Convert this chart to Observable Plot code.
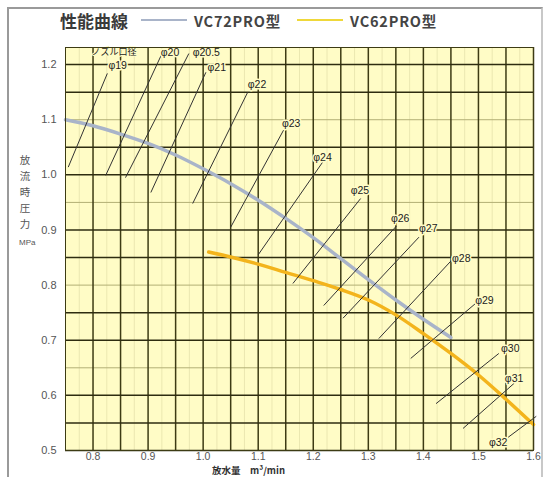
<!DOCTYPE html>
<html><head><meta charset="utf-8">
<script src="https://cdn.jsdelivr.net/npm/d3@7"></script>
<script src="https://cdn.jsdelivr.net/npm/@observablehq/plot@0.6"></script>
<style>
html,body{margin:0;padding:0;background:#fff;}
#wrap{position:relative;width:545px;height:477px;overflow:hidden;font-family:"Liberation Sans",Arial,sans-serif;}
#border{position:absolute;left:7px;top:7px;width:532px;height:480px;border-left:2px solid #9a9a9a;border-top:2px solid #9a9a9a;border-right:2px solid #c8c8c8;}
#head{position:absolute;left:60px;top:8px;height:24px;display:flex;align-items:center;font-family:"Noto Sans CJK JP","Liberation Sans",sans-serif;}
#head .t{font-weight:bold;font-size:17px;color:#3a3a3a;margin-right:13px;}
#head .ln{display:inline-block;width:46px;height:2px;margin-right:7px;}
#head .s{font-weight:bold;font-size:14.5px;color:#444;margin-right:16px;letter-spacing:0.8px;}
#chart{position:absolute;left:0;top:30px;}
#ylab{position:absolute;left:19px;top:152px;font-family:"Noto Sans CJK JP",sans-serif;font-size:10.5px;color:#555;line-height:16px;width:12px;text-align:center;}
#yunit{position:absolute;left:19px;top:238px;font-size:8px;color:#555;}
#xlab{position:absolute;left:212px;top:465px;font-family:"Noto Sans CJK JP",sans-serif;font-size:9.5px;font-weight:bold;color:#333;line-height:11px;}
</style></head>
<body>
<div id="wrap">
  <div id="border"></div>
  <div id="head"></div>
  <div id="chart"></div>
  <div id="ylab"></div>
  <div id="yunit"></div>
  <div id="xlab"></div>
</div>
<script>
const titleText = "性能曲線";
const seriesNames = ["VC72PRO型", "VC62PRO型"];
const seriesColors = ["#a9b4c9", "#f3b41c"];
const legendColors = ["#a9b4c9", "#efd83a"];
const yLabelText = "放流時圧力";
const yUnitText = "MPa";
const xLabelText = "放水量　m³/min";
const topLabelText = "ノズル口径";

// VC72PRO curve
const vc72Flow = [0.75, 0.8, 0.85, 0.9, 0.95, 1.0, 1.05, 1.1, 1.15, 1.2, 1.25, 1.3, 1.35, 1.4, 1.45];
const vc72Pres = [1.100, 1.089, 1.074, 1.057, 1.036, 1.011, 0.984, 0.954, 0.921, 0.886, 0.848, 0.810, 0.773, 0.738, 0.705];
// VC62PRO curve
const vc62Flow = [1.01, 1.05, 1.1, 1.15, 1.2, 1.25, 1.3, 1.35, 1.4, 1.45, 1.5, 1.55, 1.6];
const vc62Pres = [0.860, 0.851, 0.838, 0.823, 0.808, 0.792, 0.773, 0.746, 0.712, 0.676, 0.637, 0.593, 0.547];

// nozzle diameter lines
const nozzleNames = ["φ19","φ20","φ20.5","φ21","φ22","φ23","φ24","φ25","φ26","φ27","φ28","φ29","φ30","φ31","φ32"];
const nozzleX1 = [0.755,0.823,0.859,0.905,0.981,1.050,1.100,1.163,1.219,1.254,1.319,1.377,1.423,1.472,1.554];
const nozzleY1 = [1.014,0.999,0.995,0.968,0.948,0.905,0.855,0.803,0.763,0.740,0.703,0.667,0.585,0.540,0.524];
const nozzleX2 = [0.826,0.928,0.974,1.005,1.081,1.146,1.217,1.286,1.351,1.392,1.454,1.501,1.537,1.565,1.605];
const nozzleY2 = [1.184,1.226,1.220,1.186,1.150,1.081,1.023,0.957,0.907,0.887,0.848,0.772,0.676,0.622,0.562];
const labelX = [0.828,0.923,0.981,1.008,1.081,1.143,1.200,1.268,1.341,1.392,1.452,1.494,1.541,1.548,1.519];
const labelY = [1.199,1.221,1.221,1.195,1.164,1.093,1.032,0.972,0.921,0.903,0.848,0.772,0.685,0.631,0.515];

const xTicks = [0.8, 0.9, 1.0, 1.1, 1.2, 1.3, 1.4, 1.5, 1.6];
const yTicks = [0.5, 0.6, 0.7, 0.8, 0.9, 1.0, 1.1, 1.2];
const xGridMajor = [0.8,0.85,0.9,0.95,1.0,1.05,1.1,1.15,1.2,1.25,1.3,1.35,1.4,1.45,1.5,1.55,1.6];
const xGridMinor = [0.775,0.825,0.875,0.925,0.975,1.025,1.075,1.125,1.175,1.225,1.275,1.325,1.375,1.425,1.475,1.525,1.575];
const yGridMajor = [1.2,1.15,1.05,1.0,0.9,0.85,0.75,0.7,0.6,0.55,0.5];
const yGridMid = [1.1,0.95,0.8,0.65];

// header
const head = document.getElementById("head");
head.innerHTML = `<span class="t">${titleText}</span>` +
  seriesNames.map((n,i)=>`<span class="ln" style="background:${legendColors[i]}"></span><span class="s">${n}</span>`).join("");
document.getElementById("ylab").textContent = yLabelText;
document.getElementById("yunit").textContent = yUnitText;
document.getElementById("xlab").textContent = xLabelText;

const vc72 = vc72Flow.map((x,i)=>({x, y: vc72Pres[i]}));
const vc62 = vc62Flow.map((x,i)=>({x, y: vc62Pres[i]}));
const nozzles = nozzleNames.map((n,i)=>({n, x1:nozzleX1[i], y1:nozzleY1[i], x2:nozzleX2[i], y2:nozzleY2[i], lx:labelX[i], ly:labelY[i]}));
const bg = "#fffcc6";

const chart = Plot.plot({
  width: 545, height: 447,
  marginTop: 17, marginBottom: 27, marginLeft: 65, marginRight: 12,
  x: {domain: [0.75, 1.6]},
  y: {domain: [0.5, 1.231]},
  style: {background: "transparent", fontFamily: "'Liberation Sans', Arial, sans-serif", fontSize: "11px"},
  marks: [
    Plot.frame({fill: bg}),
    Plot.ruleX(xGridMinor, {stroke: "#e6e2ac", strokeWidth: 0.8}),
    Plot.ruleY(yGridMid, {stroke: "#b3af75", strokeWidth: 1}),
    Plot.ruleX(xGridMajor, {stroke: "#3d3b14", strokeWidth: 1.5}),
    Plot.ruleY(yGridMajor, {stroke: "#2e2c10", strokeWidth: 1.5}),
    Plot.line(vc72, {x: "x", y: "y", stroke: seriesColors[0], strokeWidth: 3.5, curve: "monotone-x"}),
    Plot.line(vc62, {x: "x", y: "y", stroke: seriesColors[1], strokeWidth: 3.5, curve: "monotone-x"}),
    Plot.link(nozzles, {x1: "x1", y1: "y1", x2: "x2", y2: "y2", stroke: "#333", strokeWidth: 1, clip: false}),
    Plot.text(nozzles, {x: "lx", y: "ly", text: "n", textAnchor: "start", fill: "#222", fontSize: 10.5, stroke: bg, strokeWidth: 3}),
    Plot.text([topLabelText], {x: [0.838], y: [1.222], text: d => d, fill: "#222", fontSize: 9, stroke: bg, strokeWidth: 2, fontFamily: "'Noto Sans CJK JP', sans-serif"}),
    Plot.frame({stroke: "#3d3b14", strokeWidth: 1}),
    Plot.axisX(xTicks, {tickSize: 0, tickPadding: 2, tickFormat: d3.format(".1f"), fill: "#555", fontSize: 10.5, label: null}),
    Plot.axisY(yTicks, {tickSize: 0, tickPadding: 9, tickFormat: d3.format(".1f"), fill: "#555", fontSize: 11, label: null})
  ]
});
document.getElementById("chart").appendChild(chart);
</script>
</body></html>
